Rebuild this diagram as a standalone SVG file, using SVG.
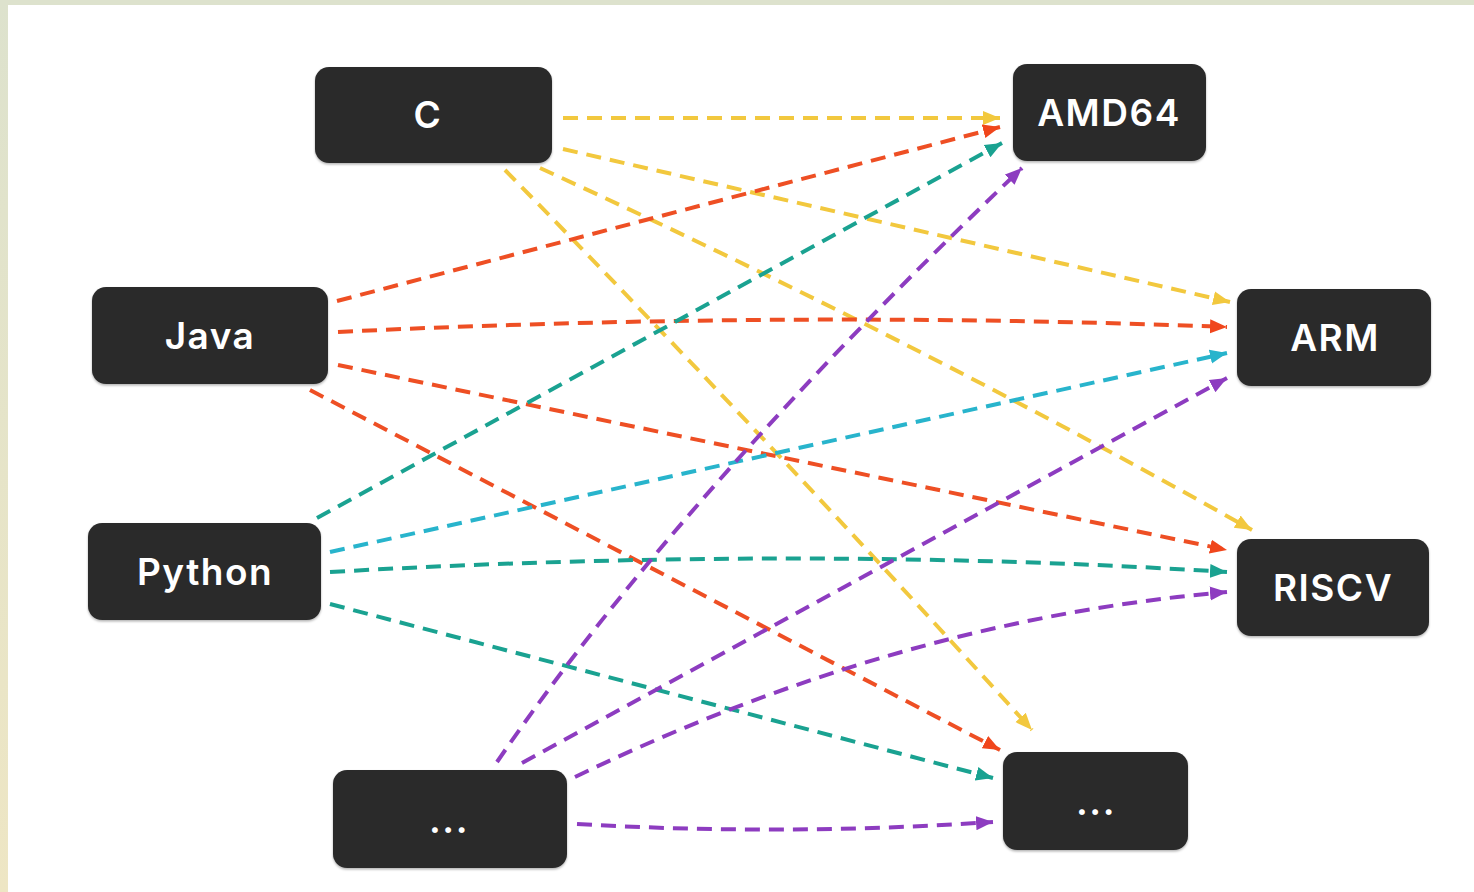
<svg xmlns="http://www.w3.org/2000/svg" width="1474" height="892" viewBox="0 0 1474 892">
  <style>
    .box { fill: #2a2a2a; filter: url(#shadow); }
    .label { fill: #ffffff; font-family: Inter, "Open Sans", "Liberation Sans", Arial, sans-serif; font-weight: 600; font-size: 37px; text-anchor: middle; letter-spacing: 1.5px; }
    .link { fill: none; stroke-width: 4; stroke-dasharray: 15 9; }
    .yellow { stroke: #f2c83e; marker-end: url(#head-yellow); }
    .red { stroke: #ee4f24; marker-end: url(#head-red); }
    .teal { stroke: #1aa291; marker-end: url(#head-teal); }
    .cyan { stroke: #28b4cc; marker-end: url(#head-cyan); }
    .purple { stroke: #8d3cc0; marker-end: url(#head-purple); }
  </style>
  <defs>
    <linearGradient id="edge" x1="0" y1="0" x2="0" y2="1">
      <stop offset="0" stop-color="#dde2cd"/>
      <stop offset="1" stop-color="#eee6c4"/>
    </linearGradient>
    <filter id="shadow" x="-10%" y="-10%" width="120%" height="130%">
      <feDropShadow dx="0" dy="1.5" stdDeviation="1.2" flood-color="#000" flood-opacity="0.3"/>
    </filter>
    <marker id="head-yellow" markerUnits="userSpaceOnUse" markerWidth="18" markerHeight="16" refX="17" refY="8" orient="auto">
      <path d="M0,1 L17,8 L0,15 z" fill="#f2c83e"/>
    </marker>
    <marker id="head-red" markerUnits="userSpaceOnUse" markerWidth="18" markerHeight="16" refX="17" refY="8" orient="auto">
      <path d="M0,1 L17,8 L0,15 z" fill="#f0461c"/>
    </marker>
    <marker id="head-teal" markerUnits="userSpaceOnUse" markerWidth="18" markerHeight="16" refX="17" refY="8" orient="auto">
      <path d="M0,1 L17,8 L0,15 z" fill="#1aa291"/>
    </marker>
    <marker id="head-cyan" markerUnits="userSpaceOnUse" markerWidth="18" markerHeight="16" refX="17" refY="8" orient="auto">
      <path d="M0,1 L17,8 L0,15 z" fill="#28b4cc"/>
    </marker>
    <marker id="head-purple" markerUnits="userSpaceOnUse" markerWidth="18" markerHeight="16" refX="17" refY="8" orient="auto">
      <path d="M0,1 L17,8 L0,15 z" fill="#8d3cc0"/>
    </marker>
  </defs>

  <!-- page -->
  <rect x="0" y="0" width="1474" height="892" fill="#ffffff"/>
  <rect x="0" y="0" width="8" height="892" fill="url(#edge)"/>
  <rect x="0" y="0" width="1474" height="5" fill="#dde2cd"/>

  <!-- source languages -->
  <g id="node-c">
    <rect class="box" x="315" y="67" width="237" height="96" rx="14"/>
    <text class="label" x="428" y="128">C</text>
  </g>
  <g id="node-java">
    <rect class="box" x="92" y="287" width="236" height="97" rx="14"/>
    <text class="label" x="210" y="349">Java</text>
  </g>
  <g id="node-python">
    <rect class="box" x="88" y="523" width="233" height="97" rx="14"/>
    <text class="label" x="205" y="585">Python</text>
  </g>
  <g id="node-lang-more">
    <rect class="box" x="333" y="770" width="234" height="98" rx="14"/>
    <text class="label" x="449" y="833">...</text>
  </g>

  <!-- target architectures -->
  <g id="node-amd64">
    <rect class="box" x="1013" y="64" width="193" height="97" rx="14"/>
    <text class="label" x="1109" y="126">AMD64</text>
  </g>
  <g id="node-arm">
    <rect class="box" x="1237" y="289" width="194" height="97" rx="14"/>
    <text class="label" x="1335" y="351">ARM</text>
  </g>
  <g id="node-riscv">
    <rect class="box" x="1237" y="539" width="192" height="97" rx="14"/>
    <text class="label" x="1333" y="601">RISCV</text>
  </g>
  <g id="node-arch-more">
    <rect class="box" x="1003" y="752" width="185" height="98" rx="14"/>
    <text class="label" x="1096" y="815">...</text>
  </g>

  <!-- every language to every architecture -->
  <g id="connectors">
    <path class="link yellow" d="M563,118 L1000,118"/>
    <path class="link yellow" d="M563,149 L1230,302"/>
    <path class="link yellow" d="M540,168 Q905,335 1252,530"/>
    <path class="link yellow" d="M505,170 Q760,430 1032,730"/>

    <path class="link red" d="M337,301 L1000,127"/>
    <path class="link red" d="M338,332 Q790,310 1227,327"/>
    <path class="link red" d="M338,365 L1227,550"/>
    <path class="link red" d="M310,390 L1000,750"/>

    <path class="link teal" d="M317,518 L1002,143"/>
    <path class="link cyan" d="M330,552 L1227,353"/>
    <path class="link teal" d="M330,572 Q800,545 1227,572"/>
    <path class="link teal" d="M330,604 L993,778"/>

    <path class="link purple" d="M497,762 Q682,492 1022,168"/>
    <path class="link purple" d="M522,763 L1227,378"/>
    <path class="link purple" d="M575,777 Q900,620 1227,592"/>
    <path class="link purple" d="M577,824 Q785,836 993,822"/>
  </g>
</svg>
